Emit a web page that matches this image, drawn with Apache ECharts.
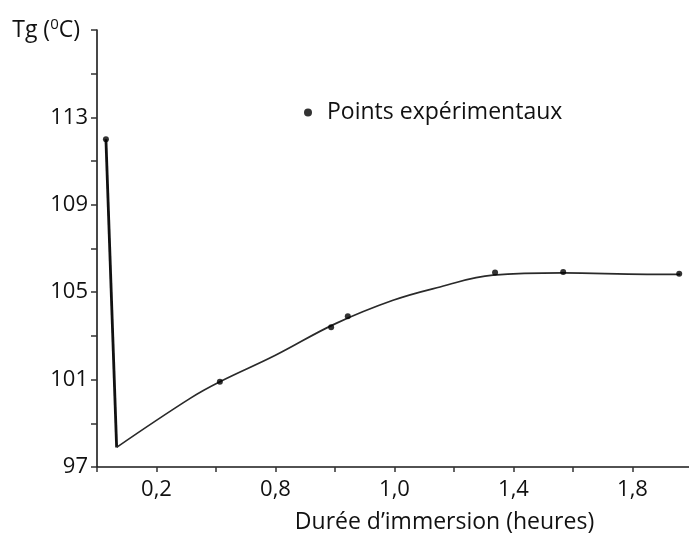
<!DOCTYPE html>
<html>
<head>
<meta charset="utf-8">
<style>html,body{margin:0;padding:0;background:#fff;}#c{width:689px;height:536px;}</style>
<script src="https://cdn.jsdelivr.net/npm/echarts@6/dist/echarts.min.js"></script>
</head>
<body>
<div id="c"></div>
<script>
// Data
var descentX = [0.03, 0.066];
var descentY = [112.0, 97.9];
// fitted curve as drawn in the reference
var curveX = [0.066, 0.313, 0.413, 0.598, 0.80, 0.995, 1.153, 1.331, 1.566, 1.849, 1.960];
var curveY = [97.9, 100.14, 100.9, 102.1, 103.55, 104.63, 105.24, 105.78, 105.88, 105.82, 105.82];
// experimental points
var pointsX = [0.03, 0.413, 0.787, 0.843, 1.338, 1.567, 1.957];
var pointsY = [112.0, 100.9, 103.4, 103.9, 105.9, 105.92, 105.85];
var xTickValues = [0.2, 0.6, 1.0, 1.4, 1.8];
var xTickLabels = ["0,2", "0,8", "1,0", "1,4", "1,8"];
var yTickValues = [97, 101, 105, 109, 113];
var yTickLabels = ["97", "101", "105", "109", "113"];

function zip(a, b) { return a.map(function (v, i) { return [v, b[i]]; }); }
function findLabel(vals, labels, v) {
  for (var i = 0; i < vals.length; i++) if (Math.abs(vals[i] - v) < 1e-6) return labels[i];
  return '';
}

var FONT = '"Open Sans", "Noto Sans", sans-serif';
var chart = echarts.init(document.getElementById('c'), null, {renderer: 'canvas'});
chart.setOption({
  backgroundColor: '#ffffff',
  animation: false,
  textStyle: {fontFamily: FONT, color: '#111'},
  grid: {left: 97, top: 30, width: 595, height: 437, containLabel: false, outerBoundsMode: 'none'},
  legend: {
    data: [{name: 'Points expérimentaux', icon: 'circle', itemStyle: {color: '#000'}}],
    left: 299, top: 96,
    itemWidth: 8, itemHeight: 8,
    textStyle: {fontSize: 23, color: '#111', fontFamily: FONT, padding: [0, 0, 0, 10]}
  },
  xAxis: {
    type: 'value', min: 0, max: 2.0, interval: 0.2,
    name: 'Durée d\u2019immersion (heures)',
    nameLocation: 'middle', nameGap: 44,
    nameTextStyle: {fontSize: 23, color: '#111', fontFamily: FONT, padding: [0, 0, 0, 100]},
    axisLine: {show: true, onZero: false, lineStyle: {color: '#1a1a1a', width: 1.6}},
    axisTick: {show: true, length: 5, lineStyle: {color: '#333', width: 1.5}},
    splitLine: {show: false},
    axisLabel: {
      margin: 12, fontSize: 22, color: '#111', fontFamily: FONT,
      formatter: function (v) { return findLabel(xTickValues, xTickLabels, v); }
    }
  },
  yAxis: {
    type: 'value', min: 97, max: 117, interval: 2,
    name: '{n|Tg (}{s|0}{n|C)}',
    nameLocation: 'end', nameGap: 0,
    nameTextStyle: {
      align: 'right', verticalAlign: 'middle', padding: [0, 17, 0, 0],
      rich: {
        n: {fontSize: 23, color: '#111', fontFamily: FONT},
        s: {fontSize: 15, color: '#111', fontFamily: FONT, padding: [0, 0, 11, 0]}
      }
    },
    axisLine: {show: true, onZero: false, lineStyle: {color: '#1a1a1a', width: 1.6}},
    axisTick: {show: true, length: 6, lineStyle: {color: '#333', width: 1.5}},
    splitLine: {show: false},
    axisLabel: {
      margin: 9, fontSize: 22, color: '#111', fontFamily: FONT,
      formatter: function (v) { return findLabel(yTickValues, yTickLabels, v); }
    }
  },
  series: [
    {
      type: 'line', name: 'descent', data: zip(descentX, descentY),
      showSymbol: false, lineStyle: {color: '#111', width: 2.8}, z: 2
    },
    {
      type: 'line', name: 'curve', data: zip(curveX, curveY),
      smooth: 0.4,
      showSymbol: false, lineStyle: {color: '#2a2a2a', width: 1.7}, z: 2
    },
    {
      type: 'scatter', name: 'Points expérimentaux', data: zip(pointsX, pointsY),
      symbol: 'circle', symbolSize: 6, itemStyle: {color: '#000'}, z: 3
    }
  ]
});
</script>
</body>
</html>
